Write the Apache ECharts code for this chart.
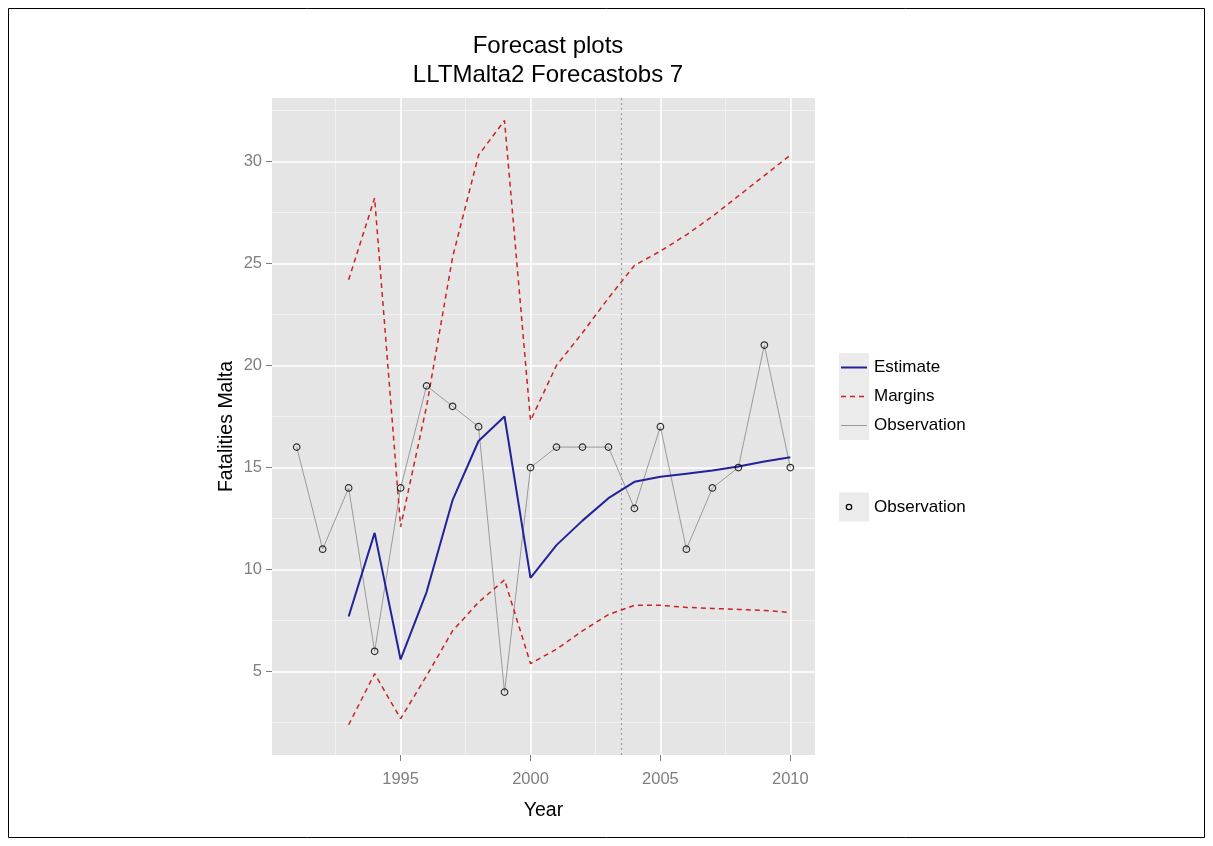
<!DOCTYPE html>
<html>
<head>
<meta charset="utf-8">
<script src="https://cdn.jsdelivr.net/npm/echarts@6/dist/echarts.min.js"></script>
<style>
html,body{margin:0;padding:0;background:#fff;}
#chart{width:1213px;height:846px;}
</style>
</head>
<body>
<div id="chart"></div>
<script>
// ---- data ----
const obsYears = [1991,1992,1993,1994,1995,1996,1997,1998,1999,2000,2001,2002,2003,2004,2005,2006,2007,2008,2009,2010];
const observation = [16,11,14,6,14,19,18,17,4,15,16,16,16,13,17,11,14,15,21,15];
const estYears = [1993,1994,1995,1996,1997,1998,1999,2000,2001,2002,2003,2004,2005,2006,2007,2008,2009,2010];
const estimate = [7.7,11.8,5.6,8.9,13.4,16.3,17.5,9.6,11.2,12.4,13.5,14.3,14.55,14.7,14.85,15.05,15.3,15.5];
const upperMargin = [24.2,28.2,12.1,18.0,25.3,30.3,32.0,17.3,20.0,21.6,23.3,24.9,25.6,26.4,27.3,28.3,29.3,30.3];
const lowerMargin = [2.4,4.9,2.7,4.8,7.0,8.4,9.5,5.4,6.1,7.0,7.8,8.25,8.25,8.15,8.1,8.05,8.0,7.9];
const forecastStart = 2003.5;
const xTicks = [1995,2000,2005,2010];
const xMinor = [1992.5,1997.5,2002.5,2007.5];
const yTicks = [5,10,15,20,25,30];
const yMinor = [2.5,7.5,12.5,17.5,22.5,27.5,32.5];
const xRange = [1990.05, 2010.95];
const yRange = [0.92, 33.1];

const pair = (xs, ys) => xs.map((x, i) => [x, ys[i]]);

const chart = echarts.init(document.getElementById('chart'), null, {renderer: 'canvas'});

const gridLines = [];
xMinor.forEach(v => gridLines.push({xAxis: v, lineStyle: {color: '#F4F4F4', width: 0.8, type: 'solid'}}));
yMinor.forEach(v => gridLines.push({yAxis: v, lineStyle: {color: '#F4F4F4', width: 0.8, type: 'solid'}}));
xTicks.forEach(v => gridLines.push({xAxis: v, lineStyle: {color: '#FFFFFF', width: 1.6, type: 'solid'}}));
yTicks.forEach(v => gridLines.push({yAxis: v, lineStyle: {color: '#FFFFFF', width: 1.6, type: 'solid'}}));

const textFont = 'Liberation Sans, Arial, sans-serif';

// legend drawn as graphics
const legX = 839, keyW = 30, keyH = 29;
const leg1Top = 353;
const legendItems = [
  {label: 'Estimate', type: 'line', color: '#22229A', dash: 'solid', width: 2},
  {label: 'Margins', type: 'line', color: '#CC2222', dash: [5, 4], width: 1.5},
  {label: 'Observation', type: 'line', color: '#9A9A9A', dash: 'solid', width: 1}
];
const graphics = [];
graphics.push({type: 'rect', shape: {x: 8.5, y: 8.5, width: 1196, height: 829}, style: {fill: 'none', stroke: '#000', lineWidth: 1}, silent: true});
legendItems.forEach((it, i) => {
  const cy = leg1Top + keyH * i + keyH / 2;
  graphics.push({type: 'rect', shape: {x: legX, y: leg1Top + keyH * i, width: keyW, height: keyH}, style: {fill: '#EBEBEB'}, silent: true});
  graphics.push({type: 'line', shape: {x1: legX + 2, y1: cy, x2: legX + keyW - 2, y2: cy}, style: {stroke: it.color, lineWidth: it.width, lineDash: it.dash === 'solid' ? null : it.dash}, silent: true});
  graphics.push({type: 'text', x: legX + keyW + 5, y: cy, style: {text: it.label, fill: '#000', font: '17px ' + textFont, textVerticalAlign: 'middle', verticalAlign: 'middle'}, silent: true});
});
const leg2Y = 507;
graphics.push({type: 'rect', shape: {x: legX, y: leg2Y - keyH / 2, width: keyW, height: keyH}, style: {fill: '#EBEBEB'}, silent: true});
graphics.push({type: 'circle', shape: {cx: legX + keyW / 2 - 5, cy: leg2Y, r: 2.7}, style: {fill: 'none', stroke: '#000', lineWidth: 1.2}, silent: true});
graphics.push({type: 'text', x: legX + keyW + 5, y: leg2Y, style: {text: 'Observation', fill: '#000', font: '17px ' + textFont, textVerticalAlign: 'middle', verticalAlign: 'middle'}, silent: true});

const option = {
  animation: false,
  backgroundColor: '#ffffff',
  textStyle: {fontFamily: textFont},
  title: [
    {text: 'Forecast plots', left: 543, top: 29, textAlign: 'center', textStyle: {fontSize: 24, fontWeight: 'normal', color: '#000', fontFamily: textFont}},
    {text: 'LLTMalta2 Forecastobs 7', left: 543, top: 58, textAlign: 'center', textStyle: {fontSize: 24, fontWeight: 'normal', color: '#000', fontFamily: textFont}}
  ],
  grid: {left: 272, top: 98, width: 543, height: 657, show: true, backgroundColor: '#E5E5E5', borderWidth: 0, containLabel: false},
  xAxis: {
    type: 'value', min: xRange[0], max: xRange[1],
    axisLine: {show: false},
    splitLine: {show: false},
    axisTick: {show: true, customValues: xTicks, length: 6, lineStyle: {color: '#7F7F7F', width: 1}},
    axisLabel: {customValues: xTicks, color: '#7F7F7F', fontSize: 16.5, margin: 16, formatter: v => String(v)},
    name: 'Year', nameLocation: 'middle', nameGap: 46,
    nameTextStyle: {fontSize: 19.5, color: '#000'}
  },
  yAxis: {
    type: 'value', min: yRange[0], max: yRange[1],
    axisLine: {show: false},
    splitLine: {show: false},
    axisTick: {show: true, customValues: yTicks, length: 6, lineStyle: {color: '#7F7F7F', width: 1}},
    axisLabel: {customValues: yTicks, color: '#7F7F7F', fontSize: 16.5, margin: 10, formatter: v => String(v)},
    name: 'Fatalities Malta', nameLocation: 'middle', nameGap: 35, nameRotate: 90,
    nameTextStyle: {fontSize: 19.5, color: '#000'}
  },
  graphic: graphics,
  series: [
    {
      name: 'grid', type: 'line', data: [], z: 1, silent: true,
      markLine: {silent: true, symbol: ['none', 'none'], label: {show: false}, animation: false, z: 1, data: gridLines}
    },
    {
      name: 'forecast start', type: 'line', data: [], z: 2, silent: true,
      markLine: {silent: true, symbol: ['none', 'none'], label: {show: false}, animation: false, z: 2,
        data: [{xAxis: forecastStart, lineStyle: {color: '#A0A0A0', width: 1.2, type: [2, 3]}}]}
    },
    {
      name: 'Observation', type: 'line', data: pair(obsYears, observation), z: 3,
      showSymbol: false, lineStyle: {color: '#9A9A9A', width: 1}
    },
    {
      name: 'Margins', type: 'line', data: pair(estYears, upperMargin), z: 4,
      showSymbol: false, lineStyle: {color: '#CC2222', width: 1.5, type: [5, 4]}
    },
    {
      name: 'Margins lower', type: 'line', data: pair(estYears, lowerMargin), z: 4,
      showSymbol: false, lineStyle: {color: '#CC2222', width: 1.5, type: [5, 4]}
    },
    {
      name: 'Estimate', type: 'line', data: pair(estYears, estimate), z: 5,
      showSymbol: false, lineStyle: {color: '#22229A', width: 2}
    },
    {
      name: 'Observation points', type: 'scatter', data: pair(obsYears, observation), z: 6,
      symbol: 'circle', symbolSize: 6.5,
      itemStyle: {color: 'rgba(0,0,0,0)', borderColor: '#000', borderWidth: 1.2}
    }
  ]
};
chart.setOption(option);
</script>
</body>
</html>
